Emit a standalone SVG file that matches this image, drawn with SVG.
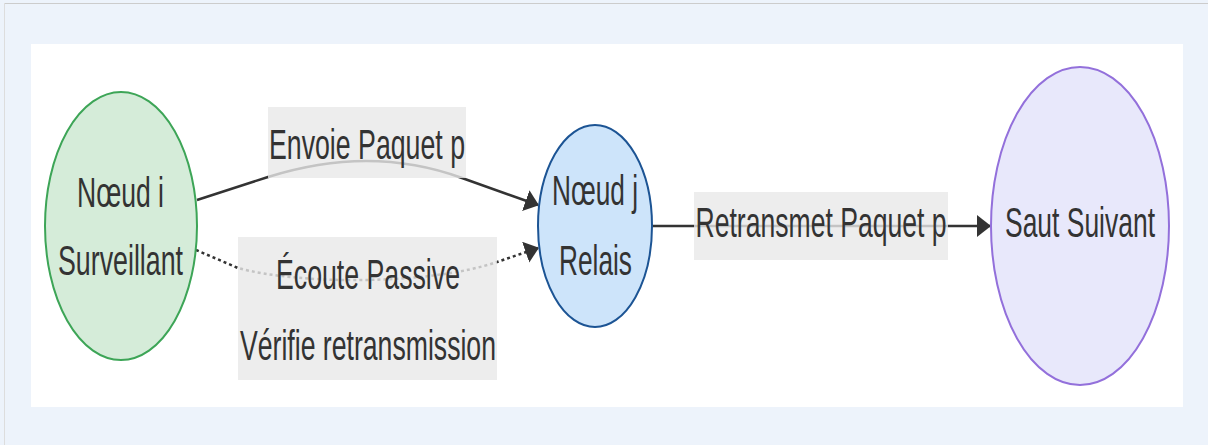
<svg xmlns="http://www.w3.org/2000/svg" width="1208" height="445" viewBox="0 0 1208 445">
  <style>
    .lbl { font-family: "Liberation Sans", Arial, sans-serif; font-size: 42px; fill: #333333; text-anchor: middle; }
    .edge { fill: none; stroke: #333333; stroke-width: 2.5; }
    .dot { stroke-dasharray: 3 3; }
    .elbox { fill: rgba(232,232,232,0.8); }
  </style>
  <defs>
    <marker id="arrow" markerUnits="userSpaceOnUse" markerWidth="16" markerHeight="24" refX="13" refY="11" orient="auto">
      <path d="M0,0 L14,11 L0,22 z" fill="#333333"/>
    </marker>
  </defs>
  <rect x="0" y="0" width="1208" height="445" fill="#EDF3FB"/>
  <line x1="4" y1="3.5" x2="1208" y2="3.5" stroke="#cccccc" stroke-width="1"/>
  <line x1="4.5" y1="3" x2="4.5" y2="445" stroke="#dddddd" stroke-width="1"/>
  <rect x="31" y="44" width="1152" height="363" fill="#ffffff"/>

  <g id="connectors">
    <path class="edge" d="M197,200 L268,177 C300,167 330,161 366,161 C400,161 432,167 462,178 L538,205" marker-end="url(#arrow)"/>
    <path class="edge dot" d="M196,250 L238,268 C300,285 430,285 497,262 L538,248" marker-end="url(#arrow)"/>
    <path class="edge" d="M652,226 L990,226" marker-end="url(#arrow)"/>
  </g>

  <g id="label-envoie">
    <rect class="elbox" x="268" y="107" width="198" height="71"/>
    <text class="lbl" x="367" y="159" textLength="196" lengthAdjust="spacingAndGlyphs">Envoie Paquet p</text>
  </g>
  <g id="label-ecoute">
    <rect class="elbox" x="238" y="237" width="259" height="143"/>
    <text class="lbl" x="368" y="289" textLength="184" lengthAdjust="spacingAndGlyphs">Écoute Passive</text>
    <text class="lbl" x="368" y="360" textLength="256" lengthAdjust="spacingAndGlyphs">Vérifie retransmission</text>
  </g>
  <g id="label-retransmet">
    <rect class="elbox" x="694" y="192" width="254" height="68"/>
    <text class="lbl" x="821" y="237" textLength="251" lengthAdjust="spacingAndGlyphs">Retransmet Paquet p</text>
  </g>

  <g id="node-i">
    <ellipse cx="121" cy="226" rx="76" ry="134" fill="#d5ecd9" stroke="#3da557" stroke-width="2"/>
    <text class="lbl" x="120.5" y="207" textLength="87" lengthAdjust="spacingAndGlyphs">Nœud i</text>
    <text class="lbl" x="120.5" y="275" textLength="125" lengthAdjust="spacingAndGlyphs">Surveillant</text>
  </g>
  <g id="node-j">
    <ellipse cx="595" cy="226" rx="57" ry="101" fill="#cde4fa" stroke="#1c5494" stroke-width="2"/>
    <text class="lbl" x="595" y="205" textLength="86" lengthAdjust="spacingAndGlyphs">Nœud j</text>
    <text class="lbl" x="595.5" y="275" textLength="73" lengthAdjust="spacingAndGlyphs">Relais</text>
  </g>
  <g id="node-next">
    <ellipse cx="1080" cy="226" rx="89" ry="159" fill="#e8e8fb" stroke="#9370db" stroke-width="2"/>
    <text class="lbl" x="1080" y="237" textLength="150" lengthAdjust="spacingAndGlyphs">Saut Suivant</text>
  </g>
</svg>
